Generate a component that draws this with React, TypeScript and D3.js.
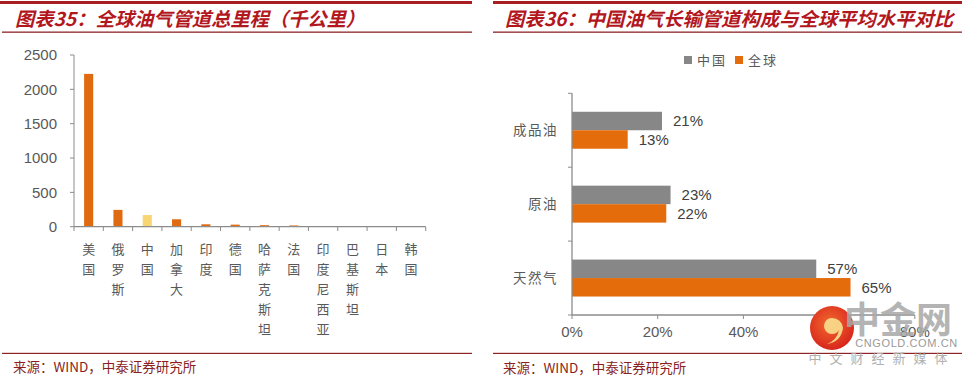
import React from "react";
import * as d3 from "d3";

const leftCategories = ["美国", "俄罗斯", "中国", "加拿大", "印度", "德国", "哈萨克斯坦", "法国", "印度尼西亚", "巴基斯坦", "日本", "韩国"];
const leftValues = [2225, 245, 170, 108, 35, 30, 22, 18, 10, 9, 4, 4];
const leftTicks = [0, 500, 1000, 1500, 2000, 2500];

const rightCategories = ["成品油", "原油", "天然气"];
const seriesNames = ["中国", "全球"];
const chinaValues = [0.21, 0.23, 0.57];
const globalValues = [0.13, 0.22, 0.65];
const rightTicks = [0, 0.2, 0.4, 0.6, 0.8];

const leftTitle = "图表35：全球油气管道总里程（千公里）";
const rightTitle = "图表36：中国油气长输管道构成与全球平均水平对比";
const sourceText = "来源：WIND，中泰证券研究所";

const CJK = "'Noto Sans CJK SC', 'Noto Sans', sans-serif";
const NUM = "'Liberation Sans', Arial, sans-serif";
const RED = "#A81E22";
const TITLE_RED = "#B3171E";
const AXIS = "#8C8C8C";
const TEXT = "#595959";
const ORANGE = "#E06A10";
const YELLOW = "#F7D673";
const GREY = "#878787";
const ORANGE2 = "#E46C0A";

export default function App() {
  // Left chart scales
  const lx = d3.scaleBand<string>().domain(leftCategories).range([74, 425.7]).paddingInner(0.69).paddingOuter(0.345);
  const lxEdges = d3.scaleBand<string>().domain(leftCategories).range([74, 425.7]).padding(0);
  const ly = d3.scaleLinear().domain([0, 2500]).range([226.7, 55]);

  // Right chart scales
  const ry0 = d3.scaleBand<string>().domain(rightCategories).range([93.3, 315]).padding(0);
  const ry1 = d3.scaleBand<string>().domain(seriesNames).range([0, ry0.bandwidth()]).paddingInner(0).paddingOuter(1);
  const rx = d3.scaleLinear().domain([0, 0.8]).range([572, 914.8]);
  const fmtPct = d3.format(".0%");

  const rightData = rightCategories.map((c, i) => ({ cat: c, vals: [chinaValues[i], globalValues[i]] }));

  return (
    <svg width={967} height={376} style={{ position: "absolute", left: 0, top: 0, background: "#fff" }}>
      <defs>
        <radialGradient id="logoGrad" cx="45%" cy="40%" r="60%">
          <stop offset="0%" stopColor="#F26A2E" />
          <stop offset="100%" stopColor="#D8261C" />
        </radialGradient>
      </defs>
      {/* Header lines */}
      <rect x={0} y={1} width={472} height={3} fill={RED} />
      <rect x={493} y={1} width={469} height={3} fill={RED} />
      <rect x={2} y={31.5} width={470} height={1.3} fill="#8E2427" />
      <rect x={493} y={31.5} width={469} height={1.3} fill="#8E2427" />
      <text x={15} y={25.5} fontFamily={CJK} fontSize={19} fontWeight="bold" fontStyle="italic" fill={TITLE_RED}
        textLength={350} lengthAdjust="spacingAndGlyphs">{leftTitle}</text>
      <text x={505} y={25.5} fontFamily={CJK} fontSize={19} fontWeight="bold" fontStyle="italic" fill={TITLE_RED}
        textLength={448} lengthAdjust="spacingAndGlyphs">{rightTitle}</text>

      {/* Left chart */}
      <g>
        <line x1={74} x2={74} y1={55} y2={226.7} stroke={AXIS} strokeWidth={1} />
        {leftTicks.map((t) => (
          <g key={t}>
            <line x1={70} x2={74} y1={ly(t)} y2={ly(t)} stroke={AXIS} />
            <text x={57} y={ly(t)} dy="0.35em" textAnchor="end" fontFamily={NUM} fontSize={15} fill={TEXT}>{t}</text>
          </g>
        ))}
        {leftCategories.map((c, i) => (
          <rect key={c} x={lx(c)} y={ly(leftValues[i])} width={lx.bandwidth()} height={ly(0) - ly(leftValues[i])}
            fill={c === "中国" ? YELLOW : ORANGE} />
        ))}
        <line x1={74} x2={425.7} y1={226.7} y2={226.7} stroke={AXIS} strokeWidth={1.2} />
        {[...leftCategories.map((c) => lxEdges(c) as number), 425.7].map((x, i) => (
          <line key={i} x1={x} x2={x} y1={226.7} y2={231} stroke={AXIS} />
        ))}
        {leftCategories.map((c) => (
          <text key={c} x={(lxEdges(c) as number) + lxEdges.bandwidth() / 2} y={249} textAnchor="middle"
            fontFamily={CJK} fontSize={13} fill={TEXT}>
            {c.split("").map((ch, j) => (
              <tspan key={j} x={(lxEdges(c) as number) + lxEdges.bandwidth() / 2} y={249 + j * 20} dy="0.35em">{ch}</tspan>
            ))}
          </text>
        ))}
      </g>

      {/* Right chart */}
      <g>
        {/* legend */}
        <rect x={684} y={56} width={8} height={8} fill={GREY} />
        <text x={697} y={60} dy="0.36em" fontFamily={CJK} fontSize={13} fill={TEXT} letterSpacing={2}>{seriesNames[0]}</text>
        <rect x={735} y={56} width={8} height={8} fill={ORANGE2} />
        <text x={748} y={60} dy="0.36em" fontFamily={CJK} fontSize={13} fill={TEXT} letterSpacing={2}>{seriesNames[1]}</text>

        {rightData.map((d) => (
          <g key={d.cat} transform={`translate(0,${ry0(d.cat)})`}>
            {d.vals.map((v, k) => (
              <g key={k}>
                <rect x={rx(0)} y={ry1(seriesNames[k])} width={rx(v) - rx(0)} height={ry1.bandwidth()}
                  fill={k === 0 ? GREY : ORANGE2} />
                <text x={rx(v) + 11} y={(ry1(seriesNames[k]) as number) + ry1.bandwidth() / 2} dy="0.36em"
                  fontFamily={NUM} fontSize={15} fill="#404040">{fmtPct(v)}</text>
              </g>
            ))}
            <text x={558} y={ry0.bandwidth() / 2} dy="0.36em" textAnchor="end" fontFamily={CJK} fontSize={13.5}
              fill={TEXT} letterSpacing={1.5}>{d.cat}</text>
          </g>
        ))}
        <line x1={572} x2={572} y1={93.3} y2={315} stroke={AXIS} strokeWidth={1.3} />
        {[...rightCategories.map((c) => ry0(c) as number), 315].map((y, i) => (
          <line key={i} x1={568} x2={572} y1={y} y2={y} stroke={AXIS} />
        ))}
        <line x1={572} x2={914.8} y1={315} y2={315} stroke={AXIS} strokeWidth={1.3} />
        {rightTicks.map((t) => (
          <g key={t}>
            <line x1={rx(t)} x2={rx(t)} y1={315} y2={319} stroke={AXIS} />
            <text x={rx(t)} y={332} dy="0.35em" textAnchor="middle" fontFamily={NUM} fontSize={15} fill={TEXT}>{fmtPct(t)}</text>
          </g>
        ))}
      </g>

      {/* Footer */}
      <rect x={2} y={352.8} width={470} height={1.2} fill="#8E2427" />
      <rect x={493} y={352.8} width={469} height={1.2} fill="#8E2427" />
      <text x={13} y={367} dy="0.35em" fontFamily={CJK} fontSize={13.5} fill="#8A1F22">{sourceText}</text>
      <text x={503} y={368} dy="0.35em" fontFamily={CJK} fontSize={13.5} fill="#8A1F22">{sourceText}</text>

      {/* Watermark */}
      <g>
        <circle cx={832} cy={328} r={22} fill="url(#logoGrad)" />
        <path d="M832,318 a8,8 0 1,0 7,12 q-2,10 -12,14 q14,-2 16,-16 a11,11 0 0,0 -11,-10 z" fill="#F8D98A" opacity={0.95} />
        <text x={898} y={333} textAnchor="middle" fontFamily={CJK} fontSize={36} fontWeight="bold" fill="#A8A8A8" opacity={0.85}>中金网</text>
        <text x={906.5} y={343.5} dy="0.35em" textAnchor="middle" fontFamily={NUM} fontSize={11} fill="#9A9A9A" letterSpacing={0.6}>CNGOLD.COM.CN</text>
        <text x={882} y={358.5} dy="0.35em" textAnchor="middle" fontFamily={CJK} fontSize={13} fill="#B0B0B0" letterSpacing={8}>中文财经新媒体</text>
      </g>
    </svg>
  );
}
